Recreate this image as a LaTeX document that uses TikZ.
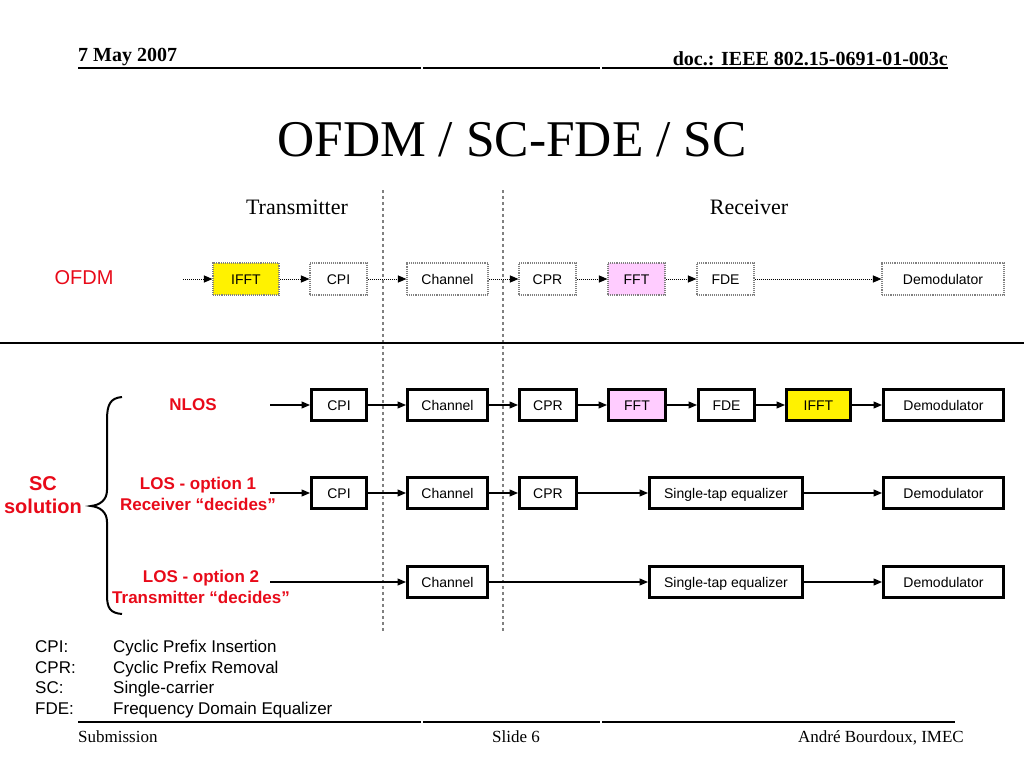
\documentclass[tikz,border=0pt]{standalone}
\usepackage{fontspec}
\setmainfont{Liberation Serif}
\setsansfont{Liberation Sans}
\usetikzlibrary{arrows.meta}
\definecolor{slidered}{RGB}{232,10,25}
\definecolor{fftpink}{RGB}{255,204,255}
\newcommand{\fs}[2]{\fontsize{#1}{#2}\selectfont}
\tikzset{
  ofdmbox/.style={draw=gray, densely dotted, line width=1.1pt, minimum height=32,
    inner sep=0pt, text height=11pt, text depth=1pt, font=\sffamily\fs{14}{17}},
  scbox/.style={draw, line width=3pt, minimum height=31, inner sep=0pt,
    text height=11pt, text depth=1pt, font=\sffamily\fs{14}{17}},
  ofdmarrow/.style={densely dotted, line width=1pt, -{Triangle[length=8.5pt,width=7pt]}},
  scarrow/.style={line width=1.2pt, -{Triangle[length=8.5pt,width=7pt]}},
  redlabel/.style={text=slidered, font=\sffamily\bfseries\fs{17}{21}, align=center},
  legend/.style={anchor=base west, font=\sffamily\fs{17}{20}, inner sep=0pt}
}
\begin{document}
\begin{tikzpicture}[x=1pt, y=-1pt]
\useasboundingbox (0,0) rectangle (1024,768);
% header and footer
\node[anchor=base west, inner sep=0pt, font=\bfseries\fs{20}{24}] (date) at (78,62) {7 May 2007};
\node[anchor=base east, inner sep=0pt, font=\bfseries\fs{20}{24}] (doc) at (948,66) {doc.: IEEE 802.15-0691-01-003c};
\draw[line width=2pt] (78,68)--(421,68) (423,68)--(600,68) (602,68)--(948,68);
\draw[line width=2pt] (78,722)--(421,722) (423,722)--(600,722) (602,722)--(955,722);
\node[anchor=base west, inner sep=0pt, font=\fs{17}{20}] (sub) at (78,742) {Submission};
\node[anchor=base, inner sep=0pt, font=\fs{17}{20}] (slide) at (516,742) {Slide 6};
\node[anchor=base east, inner sep=0pt, font=\fs{17}{20}] (auth) at (964,742) {André Bourdoux, IMEC};
\node[font=\fs{51.5}{60}] (title) at (512,140) {OFDM / SC-FDE / SC};
\node[font=\fs{22}{26}] (tx) at (297,207) {Transmitter};
\node[font=\fs{22}{26}] (rx) at (749,207) {Receiver};
\draw[gray, dashed, line width=1.5pt] (383,190)--(383,632) (503,190)--(503,632);
\draw[line width=2pt] (0,343)--(1024,343);
% OFDM row
\node[text=slidered, font=\sffamily\fs{20}{24}] (ofdm) at (84,278) {OFDM};
\coordinate (oin) at (183,279);
\node[ofdmbox, fill=yellow, minimum width=66] (oifft) at (246,279) {IFFT};
\node[ofdmbox, minimum width=57] (ocpi) at (338.5,279) {CPI};
\node[ofdmbox, minimum width=81] (ochan) at (447.5,279) {Channel};
\node[ofdmbox, minimum width=57] (ocpr) at (547.5,279) {CPR};
\node[ofdmbox, fill=fftpink, minimum width=57] (offt) at (636.5,279) {FFT};
\node[ofdmbox, minimum width=57] (ofde) at (725.5,279) {FDE};
\node[ofdmbox, minimum width=122] (odem) at (943,279) {Demodulator};
\foreach \a/\b in {oin/oifft, oifft/ocpi, ocpi/ochan, ochan/ocpr, ocpr/offt, offt/ofde, ofde/odem}
  \draw[ofdmarrow] (\a) -- (\b);
% SC solution
\node[redlabel, font=\sffamily\bfseries\fs{20}{23}] (sc) at (43,495) {SC\\solution};
\draw[line width=2pt] (122,397) .. controls (110,398) and (107,405) .. (107,420) -- (107,490)
  .. controls (107,500) and (100,505) .. (91,506) .. controls (100,507) and (107,512) .. (107,522)
  -- (107,595) .. controls (107,608) and (110,613) .. (122,614);
% NLOS
\node[redlabel] (nlos) at (193,405) {NLOS};
\coordinate (ain) at (270,405);
\node[scbox, minimum width=55] (acpi) at (339,405) {CPI};
\node[scbox, minimum width=80] (achan) at (447.5,405) {Channel};
\node[scbox, minimum width=57] (acpr) at (548,405) {CPR};
\node[scbox, fill=fftpink, minimum width=57] (afft) at (637,405) {FFT};
\node[scbox, minimum width=56] (afde) at (726.5,405) {FDE};
\node[scbox, fill=yellow, minimum width=64] (aifft) at (818.5,405) {IFFT};
\node[scbox, minimum width=120] (adem) at (943.5,405) {Demodulator};
\foreach \a/\b in {ain/acpi, acpi/achan, achan/acpr, acpr/afft, afft/afde, afde/aifft, aifft/adem}
  \draw[scarrow] (\a) -- (\b);
% LOS - option 1
\node[redlabel] (los1) at (198,494) {LOS - option 1\\Receiver “decides”};
\coordinate (bin) at (270,493);
\node[scbox, minimum width=55] (bcpi) at (339,493) {CPI};
\node[scbox, minimum width=80] (bchan) at (447.5,493) {Channel};
\node[scbox, minimum width=57] (bcpr) at (548,493) {CPR};
\node[scbox, minimum width=153] (beq) at (726,493) {Single-tap equalizer};
\node[scbox, minimum width=120] (bdem) at (943.5,493) {Demodulator};
\foreach \a/\b in {bin/bcpi, bcpi/bchan, bchan/bcpr, bcpr/beq, beq/bdem}
  \draw[scarrow] (\a) -- (\b);
% LOS - option 2
\node[redlabel] (los2) at (201,587) {LOS - option 2\\Transmitter “decides”};
\coordinate (cin) at (270,582);
\node[scbox, minimum width=80] (cchan) at (447.5,582) {Channel};
\node[scbox, minimum width=153] (ceq) at (726,582) {Single-tap equalizer};
\node[scbox, minimum width=120] (cdem) at (943.5,582) {Demodulator};
\foreach \a/\b in {cin/cchan, cchan/ceq, ceq/cdem}
  \draw[scarrow] (\a) -- (\b);
% legend
\node[legend] (k1) at (35,652) {CPI:};
\node[legend] (v1) at (113,652) {Cyclic Prefix Insertion};
\node[legend] (k2) at (35,673) {CPR:};
\node[legend] (v2) at (113,673) {Cyclic Prefix Removal};
\node[legend] (k3) at (35,693) {SC:};
\node[legend] (v3) at (113,693) {Single-carrier};
\node[legend] (k4) at (35,714) {FDE:};
\node[legend] (v4) at (113,714) {Frequency Domain Equalizer};
\end{tikzpicture}
\end{document}
